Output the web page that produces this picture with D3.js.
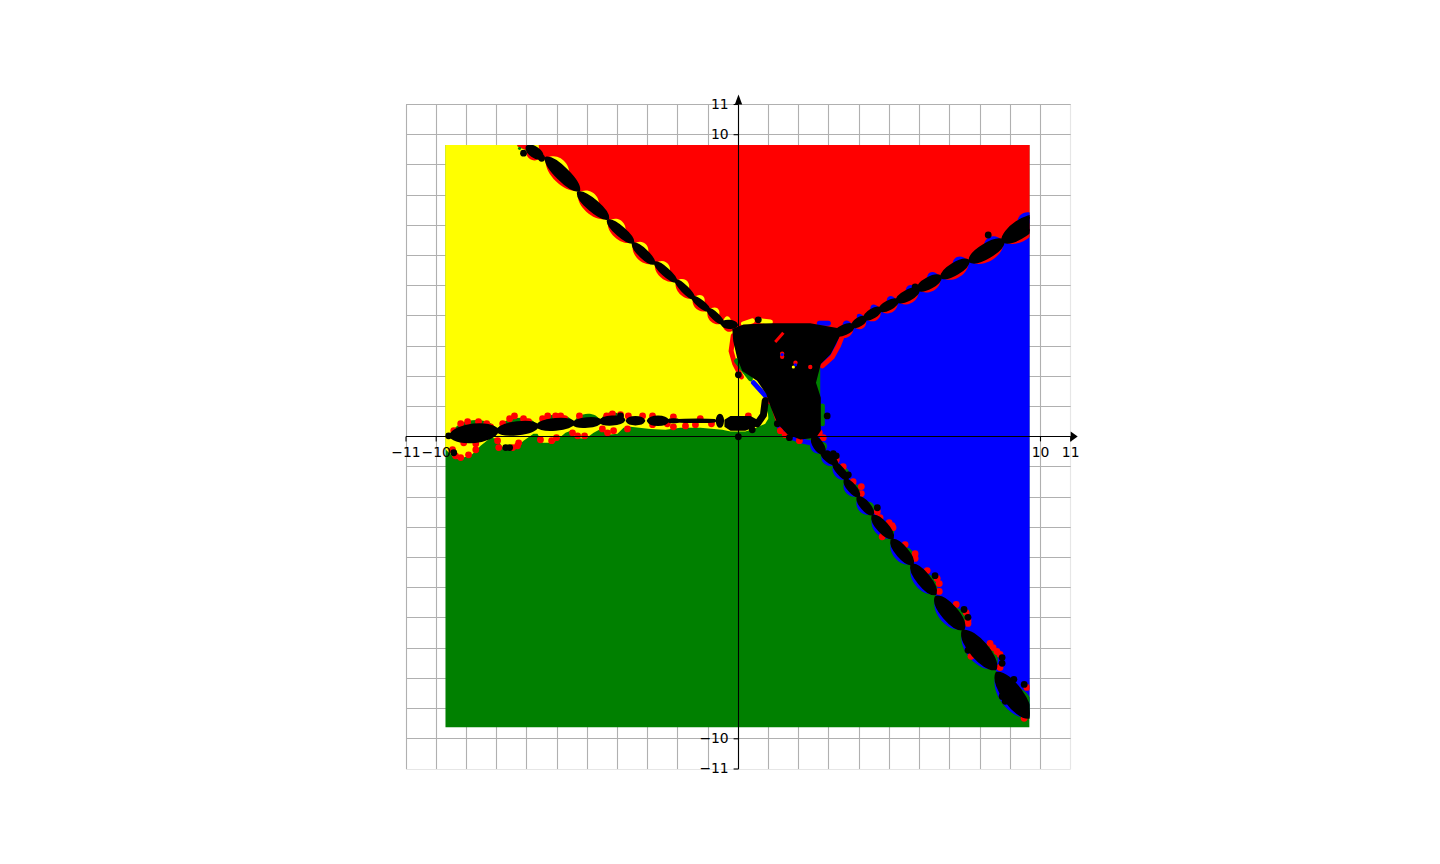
<!DOCTYPE html>
<html>
<head>
<meta charset="utf-8">
<script src="https://d3js.org/d3.v7.min.js"></script>
<style>
  html, body { margin: 0; background: #fff; }
  svg { display: block; }
  text { font-family: "DejaVu Sans", sans-serif; }
</style>
</head>
<body>
<svg width="1440" height="864"></svg>
<script>
// basins, all values in chart units
const gridValues = [-11,-10,-9,-8,-7,-6,-5,-4,-3,-2,-1,0,1,2,3,4,5,6,7,8,9,10,11];
const tickValues = [-11,-10,10,11];
const plotBox = [[-9.7,9.66],[9.64,9.66],[9.64,-9.63],[-9.7,-9.63]];

// lens chains: x1, y1, x2, y2, half thickness
const nwLenses = [
  [-6.98,9.59,-6.51,9.26,.16],[-6.35,9.22,-5.29,8.17,.2],[-5.29,8.07,-4.33,7.24,.18],[-4.30,7.14,-3.50,6.45,.15],
  [-3.47,6.38,-2.81,5.75,.14],[-2.74,5.75,-2.08,5.16,.125],[-2.05,5.16,-1.49,4.60,.11],[-1.49,4.60,-.99,4.20,.11],
  [-.99,4.20,-.53,3.77,.11],[-.53,3.74,-.07,3.70,.13]
];
const neLenses = [
  [3.21,3.41,3.80,3.67,.15],[3.80,3.67,4.20,3.93,.13],[4.20,3.93,4.69,4.23,.14],[4.69,4.20,5.26,4.50,.14],
  [5.26,4.50,5.95,4.86,.16],[5.95,4.89,6.68,5.29,.17],[6.74,5.29,7.60,5.82,.18],[7.67,5.82,8.76,6.48,.22],
  [8.76,6.48,9.92,7.27,.26]
];
const seLenses = [
  [2.48,-.03,2.81,-.53,.15],[2.78,-.53,3.24,-.89,.13],[3.17,-.89,3.60,-1.39,.12],[3.54,-1.45,3.97,-1.95,.13],
  [3.97,-2.02,4.43,-2.55,.14],[4.46,-2.64,5.09,-3.34,.17],[5.09,-3.44,5.75,-4.20,.18],[5.75,-4.26,6.51,-5.19,.2],
  [6.55,-5.32,7.44,-6.35,.24],[7.44,-6.45,8.50,-7.67,.27],[8.56,-7.84,9.62,-9.28,.3]
];
const wLenses = [
  [-9.52,.03,-7.97,.2,.28],[-7.97,.2,-6.65,.36,.2],[-6.65,.36,-5.45,.46,.18],[-5.45,.43,-4.56,.51,.15],
  [-4.56,.51,-3.80,.56,.14],[-3.67,.53,-3.14,.53,.13],[-2.97,.53,-2.35,.53,.15],[-2.31,.53,-1.98,.53,.07],
  [-1.98,.53,-.79,.53,.06],[-.69,.53,-.53,.53,.2]
];

const yellowRegion = [
  [-9.8,9.8],[-7.31,9.8],[-7.31,9.62],[-6.51,9.26],[-6.35,9.22],[-5.29,8.12],[-4.33,7.2],[-3.5,6.42],[-2.78,5.75],[-2.05,5.16],[-1.49,4.6],[-.99,4.2],[-.53,3.77],[-.17,3.57],
  [-.17,3.17],[0,2.61],[.17,2.18],[.66,1.85],[.96,1.42],[.99,1.09],[.99,.60],[.89,.43],[.50,.26],[.23,.17],[-.26,.17],[-.53,.23],[-1.26,.30],[-1.92,.30],[-2.41,.23],[-2.91,.26],[-3.57,.33],
  [-3.80,.30],[-4.00,.10],[-4.33,.07],[-4.56,.26],[-4.79,.13],[-5.06,-.07],[-5.39,-.03],[-5.55,.20],[-5.72,.13],[-6.12,-.20],[-6.48,-.20],[-6.65,.10],
  [-6.78,.10],[-7.11,-.13],[-7.44,-.43],[-7.77,-.43],[-7.97,-.07],[-8.20,-.03],[-8.53,-.30],[-8.86,-.63],[-9.29,-.73],[-9.45,-.66],[-9.8,-.30]
];
const redRegion = [
  [-7.31,9.8],[9.8,9.8],[9.8,7.18],[9.62,7.07],[8.76,6.48],[7.63,5.82],[6.71,5.29],[5.95,4.87],[5.26,4.5],[4.69,4.22],[4.2,3.93],[3.8,3.67],[3.21,3.41],
  [-.17,3.57],[-.53,3.77],[-.99,4.2],[-1.49,4.6],[-2.05,5.16],[-2.78,5.75],[-3.5,6.42],[-4.33,7.2],[-5.29,8.12],[-6.35,9.22],[-6.51,9.26],[-7.31,9.62]
];
const blueRegion = [
  [3.21,3.41],[3.8,3.67],[4.2,3.93],[4.69,4.22],[5.26,4.5],[5.95,4.87],[6.71,5.29],[7.63,5.82],[8.76,6.48],[9.62,7.07],[9.8,7.18],[9.8,-9.5],[9.62,-9.28],
  [8.53,-7.75],[7.44,-6.4],[6.53,-5.25],[5.75,-4.23],[5.09,-3.39],[4.44,-2.6],[3.97,-1.98],[3.57,-1.42],[3.2,-.89],[2.8,-.53],[2.48,-.03],[2.71,.2],[2.71,2.41]
];
const centralBlack = [
  [-.2,3.57],[.17,3.72],[1.12,3.76],[2.38,3.76],[3.46,3.57],[3.33,3.27],[3.06,2.74],[2.73,2.41],[2.57,1.79],[2.73,1.29],[2.73,.20],[2.57,-.03],
  [2.05,-.09],[1.62,.08],[1.30,.43],[1.08,.96],[.92,1.42],[.62,1.85],[.13,2.18],[-.04,2.61],[-.17,3.17]
];
const lowBlack = [[-.46,.56],[-.26,.69],[.40,.69],[.63,.56],[.63,.36],[.23,.2],[-.26,.2],[-.46,.33]];
const tailBlack = [[.63,.43],[.83,.72],[.89,1.19]];

const rimRed = [
  [[-.17,3.34],[-.24,2.84],[-.12,2.41],[.10,1.98]],
  [[.96,1.29],[1.12,.86],[1.26,.50]],
  [[3.44,3.34],[3.31,3.01],[3.11,2.64],[2.78,2.35]]
];
const rimGreen = [[[-.06,2.51],[.40,1.92]],[[2.78,1.02],[2.78,.43]],[[.99,1.0],[1.15,.5],[1.36,.2],[1.62,-.1]]];
const rimBlue = [[[.50,1.79],[.89,1.36]],[[1.36,.30],[1.62,.03],[2.05,-.13],[2.38,-.20]],[[2.68,3.76],[2.98,3.76]]];
const rimYellow = [[[.17,3.74],[.46,3.84]],[[.73,3.84],[1.06,3.80]]];
const sliverRed = [[1.22,3.14],[1.49,3.44]];

const redPoints = [
  [-9.42,.20],[-9.19,.43],[-8.96,.50],[-8.60,.50],[-8.33,.43],[-8.20,.33],[-9.09,-.20],[-8.69,-.23],[-9.46,-.43],[-9.36,-.63],[-9.19,-.69],[-8.93,-.60],[-8.69,-.43],
  [-7.97,-.13],[-7.93,-.36],[-7.80,.43],[-7.57,.60],[-7.41,.69],[-7.11,.60],[-6.94,.50],[-7.27,-.20],[-7.31,-.30],[-7.47,-.36],[-6.55,-.10],[-6.18,-.13],[-6.02,-.03],
  [-6.48,.60],[-6.31,.69],[-6.05,.69],[-5.88,.69],[-5.75,.60],[-5.26,.69],[-5.49,.13],[-5.32,.03],[-5.09,.03],[-4.50,.26],[-4.33,.13],[-4.13,.20],[-4.36,.69],[-4.17,.76],[-3.90,.73],[-3.64,.69],
  [-3.67,.26],[-3.17,.69],[-2.84,.69],[-2.84,.40],[-2.35,.43],[-2.15,.66],[-2.15,.33],[-1.75,.36],[-1.42,.40],[-1.26,.60],[-.89,.43],[.33,.69],
  [1.39,.20],[1.55,.07],[2.02,-.13],[2.68,.13],[2.81,-.03],
  [3.24,-.76],[3.47,-.99],[3.80,-1.49],[4.07,-1.65],[4.07,-1.88],[4.60,-2.48],[4.69,-2.68],[4.99,-2.84],[5.09,-2.94],[5.12,-3.01],[4.76,-3.31],[5.52,-3.57],[5.85,-3.87],[5.85,-4.03],
  [6.25,-4.43],[6.58,-4.69],[6.65,-4.86],[6.65,-5.12],[7.21,-5.55],[7.54,-5.82],[7.60,-6.08],[7.60,-6.18],[7.70,-7.27],[8.33,-6.84],[8.43,-6.98],[8.56,-7.11],[8.66,-7.21],[8.66,-7.64],[9.46,-9.32],[9.55,-8.30]
];
const blackPoints = [
  [-9.59,.03],[-9.42,-.53],[-7.70,-.36],[-7.57,-.36],[-3.90,.69],[-7.11,9.39],[-6.51,9.22],[0,2.05],[.66,3.87],[0,0],[1.29,.43],[2.94,.69],[.46,.23],[1.69,-.03],
  [2.94,-.56],[3.14,-.56],[3.24,-.63],[3.64,-1.26],[4.60,-2.35],[6.51,-4.60],[7.47,-5.72],[7.60,-5.98],[7.60,-7.07],[8.73,-7.31],[8.73,-7.50],[9.12,-8.03],[9.46,-8.20],
  [8.73,-8.60],[8.83,-8.76],[9.52,-9.16],[8.27,6.68],[5.85,4.96]
];
const holeRed = [[1.45,2.75],[1.45,2.65],[1.89,2.45],[2.38,2.31]];
const holeBlue = [[1.45,2.72],[1.89,2.38]];
const holeYellow = [[1.82,2.31]];
const speckGreen = [[-7.24,9.55]];

const svg = d3.select("svg");
const x = d3.scaleLinear().domain([-11,11]).range([406,1070.7]);
const y = d3.scaleLinear().domain([-11,11]).range([769,104.5]);
const unit = x(1) - x(0);
const line = d3.line().x(d => x(d[0])).y(d => y(d[1]));
const poly = pts => line(pts) + "Z";
const snap = v => Math.floor(v) + .5;

// grid
const grid = svg.append("g").attr("stroke", "#b0b0b0").attr("stroke-width", 1.1);
grid.selectAll(".v").data(gridValues).join("line").attr("class", "v")
  .attr("x1", d => snap(x(d))).attr("x2", d => snap(x(d))).attr("y1", y(11)).attr("y2", y(-11))
  .attr("opacity", d => d === 11 ? 0.3 : 1);
grid.selectAll(".h").data(gridValues).join("line").attr("class", "h")
  .attr("y1", d => snap(y(d))).attr("y2", d => snap(y(d))).attr("x1", x(-11)).attr("x2", x(11))
  .attr("opacity", d => d === -11 ? 0.3 : 1);

svg.append("clipPath").attr("id", "plot").append("path").attr("d", poly(plotBox));
const g = svg.append("g").attr("clip-path", "url(#plot)");

// regions, green goes under everything
g.append("path").attr("d", poly(plotBox)).attr("fill", "green");
g.append("path").attr("d", poly(yellowRegion)).attr("fill", "yellow");
g.append("path").attr("d", poly(redRegion)).attr("fill", "red");
g.append("path").attr("d", poly(blueRegion)).attr("fill", "blue");

function rims(list, color) {
  g.selectAll(null).data(list).join("path").attr("d", line)
    .attr("fill", "none").attr("stroke", color).attr("stroke-width", 5).attr("stroke-linecap", "round");
}
rims(rimRed, "red");
rims(rimGreen, "green");
rims(rimBlue, "blue");
rims(rimYellow, "yellow");

// full bodied lens between two points, up = left of the direction of travel on screen
function lensPath(p, q, up, down) {
  const ax = x(p[0]), ay = y(p[1]), bx = x(q[0]), by = y(q[1]);
  const dx = bx - ax, dy = by - ay, len = Math.hypot(dx, dy);
  const nx = dy / len, ny = -dx / len;
  const c = (t, a) => `${ax + dx * t + nx * a * unit * 4 / 3},${ay + dy * t + ny * a * unit * 4 / 3}`;
  return `M${ax},${ay}C${c(.12, up)} ${c(.88, up)} ${bx},${by}` +
         `C${c(.88, -down)} ${c(.12, -down)} ${ax},${ay}Z`;
}
const at = (l, t) => [l[0] + (l[2] - l[0]) * t, l[1] + (l[3] - l[1]) * t];

function chainRims(lenses, o) {
  lenses.forEach(l => {
    if (o.down) g.append("path").attr("fill", o.down)
      .attr("d", lensPath(at(l, 0), at(l, 1), 0, l[4] * 1.12 + o.downBy));
    if (o.up) g.append("path").attr("fill", o.up)
      .attr("d", lensPath(at(l, o.from), at(l, o.to), l[4] * 1.12 + o.upBy, 0));
  });
}
function chainBlack(lenses) {
  lenses.forEach(l => {
    g.append("path").attr("fill", "#000").attr("stroke", "#000").attr("stroke-width", 3.5).attr("stroke-linejoin", "round")
      .attr("d", lensPath(at(l, 0), at(l, 1), l[4] * 1.12 - .05, l[4] * 1.12 - .05));
  });
}
chainRims(nwLenses, {up: "yellow", from: 0, to: .65, upBy: .12, down: "red", downBy: .1});
chainRims(neLenses, {up: "blue", from: .45, to: 1, upBy: .1, down: "red", downBy: .1});
chainRims(seLenses, {up: "green", from: .35, to: 1, upBy: .08, down: "blue", downBy: .1});
chainRims(wLenses.slice(0, 5), {up: "green", from: 0, to: 1, upBy: .12});

function dots(pts, color, r) {
  g.selectAll(null).data(pts).join("circle")
    .attr("cx", d => x(d[0])).attr("cy", d => y(d[1])).attr("r", r).attr("fill", color);
}
dots(redPoints, "red", 3.4);

// black core
chainBlack(nwLenses);
chainBlack(neLenses);
chainBlack(seLenses);
chainBlack(wLenses);
g.append("path").attr("d", poly(centralBlack)).attr("fill", "#000");
g.append("path").attr("d", poly(lowBlack)).attr("fill", "#000");
g.append("path").attr("d", line(tailBlack)).attr("fill", "none").attr("stroke", "#000").attr("stroke-width", 7).attr("stroke-linecap", "round");
dots(blackPoints, "#000", 3.4);

g.append("path").attr("d", line(sliverRed)).attr("stroke", "red").attr("stroke-width", 3).attr("fill", "none");
dots(holeRed, "red", 2.2);
dots(holeBlue, "blue", 1.6);
dots(holeYellow, "yellow", 1.6);
dots(speckGreen, "green", 1.6);

// spines through the origin, ticks only at the ends
const ox = snap(x(0)), oy = snap(y(0));
const xAxis = svg.append("g").attr("transform", `translate(0,${oy})`)
  .call(d3.axisBottom(x).tickValues(tickValues).tickSize(4.9).tickPadding(5.6).offset(0));
const yAxis = svg.append("g").attr("transform", `translate(${ox},0)`)
  .call(d3.axisLeft(y).tickValues(tickValues).tickSize(4.9).tickPadding(4.9).offset(0));
[xAxis, yAxis].forEach(a => {
  a.select(".domain").remove();
  a.selectAll("line").attr("stroke", "#000").attr("stroke-width", 1.1);
  a.selectAll("text").attr("fill", "#000").style("font-size", "13.9px").style("font-family", "'DejaVu Sans'");
});
svg.append("line").attr("x1", x(-11)).attr("x2", x(11)).attr("y1", oy).attr("y2", oy).attr("stroke", "#000").attr("stroke-width", 1.1);
svg.append("line").attr("y1", y(-11)).attr("y2", y(11)).attr("x1", ox).attr("x2", ox).attr("stroke", "#000").attr("stroke-width", 1.1);

// arrow heads
svg.append("path").attr("fill", "#000").attr("d", `M${x(11)},${oy - 5}L${x(11) + 7},${oy}L${x(11)},${oy + 5}Z`);
svg.append("path").attr("fill", "#000").attr("d", `M${ox - 3.7},${y(11)}L${ox},${y(11) - 10}L${ox + 3.7},${y(11)}Z`);
</script>
</body>
</html>
